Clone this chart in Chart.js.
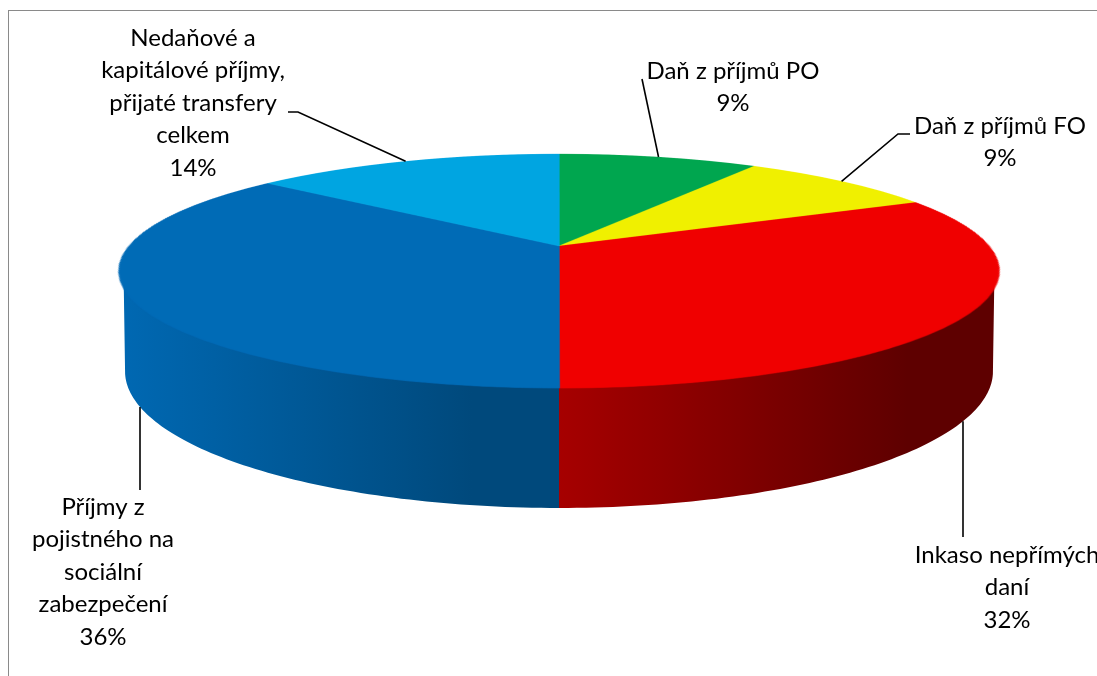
<!DOCTYPE html>
<html>
<head>
<meta charset="utf-8">
<script src="https://cdn.jsdelivr.net/npm/chart.js@4.4.1/dist/chart.umd.min.js"></script>
<style>
  html, body { margin: 0; padding: 0; background: #fff; overflow: hidden; }
  canvas { display: block; }
</style>
</head>
<body>
<canvas id="pie" width="1097" height="676"></canvas>
<script>
// Revenue structure (shares in %), clockwise from 12 o'clock
const categories = [
  ['Daň z příjmů PO'],
  ['Daň z příjmů FO'],
  ['Inkaso nepřímých', 'daní'],
  ['Příjmy z', 'pojistného na', 'sociální', 'zabezpečení'],
  ['Nedaňové a', 'kapitálové příjmy,', 'přijaté transfery', 'celkem']
];
const shares = [9, 9, 32, 36, 14];

// Face colours and the light/dark ends of each slice's rim
const topColors = ['#00A64F', '#F0F000', '#F00000', '#006BB6', '#00A5E1'];
const rimColors = [
  ['#00803D', '#005A2A'],
  ['#B8B800', '#808000'],
  ['#A60000', '#5E0000'],
  ['#0068B2', '#00497C'],
  ['#0086B8', '#005E82']
];

// Perspective camera for the tilted disc (unit-radius disc, screen pixels)
const CAM = { cx: 559, cy: 246, focal: 1943, dist: 4.519, tiltDeg: 15.06, thickness: 0.2356 };
const SIN_T = Math.sin(CAM.tiltDeg * Math.PI / 180);
const COS_T = Math.cos(CAM.tiltDeg * Math.PI / 180);

// Label blocks (centre x, first line y) and how their leader lines run
const labelSpots = [
  { x: 733, y: 71,  leader: { kind: 'rim', via: [[642, 79]] } },
  { x: 1000, y: 126, leader: { kind: 'rim', via: [[898, 134], [910, 134]] } },
  { x: 1007, y: 555, leader: { kind: 'drop', x: 963, end: 537 } },
  { x: 103, y: 507, leader: { kind: 'drop', x: 140, end: 490 } },
  { x: 193, y: 38,  leader: { kind: 'rim', via: [[298, 112], [288, 112]] } }
];
const LINE_STEP = 32.5;
const LABEL_FONT = '24px Lato';

const total = shares.reduce((a, b) => a + b, 0);

// Project a disc point: angle in canvas convention, level 0 = top face, 1 = bottom face
function project(angle, level, radius = 1) {
  const u = radius * Math.cos(angle), v = radius * Math.sin(angle);
  const Y = -CAM.thickness * level;
  const depth = CAM.dist - Y * SIN_T - v * COS_T;
  return [CAM.cx + CAM.focal * u / depth,
          CAM.cy - CAM.focal * (Y * COS_T - v * SIN_T) / depth];
}

// Side wall is visible where the outward normal faces the camera
const SIDE_MIN = Math.asin(1 / (CAM.dist * COS_T));
const SIDE_MAX = Math.PI - SIDE_MIN;

function drawRims(ctx, meta) {
  meta.data.forEach((arc, i) => {
    const s = Math.max(arc.startAngle, SIDE_MIN);
    const e = Math.min(arc.endAngle, SIDE_MAX);
    if (e <= s) return;
    const N = 80, pts = [];
    // upper edge tucked just under the face so the two meet without a seam
    for (let k = 0; k <= N; k++) pts.push(project(s + (e - s) * k / N, 0, 0.99));
    for (let k = N; k >= 0; k--) pts.push(project(s + (e - s) * k / N, 1));
    let x0 = Infinity, x1 = -Infinity;
    pts.forEach(p => { x0 = Math.min(x0, p[0]); x1 = Math.max(x1, p[0]); });
    const g = ctx.createLinearGradient(x0, 0, x1, 0);
    g.addColorStop(0, rimColors[i][0]);
    g.addColorStop(0.8, rimColors[i][1]);
    g.addColorStop(1, rimColors[i][1]);
    ctx.beginPath();
    pts.forEach((p, k) => k ? ctx.lineTo(p[0], p[1]) : ctx.moveTo(p[0], p[1]));
    ctx.closePath();
    ctx.fillStyle = g;
    ctx.fill();
  });
}

// Halve a canvas vertically (exact 2:1 bilinear = average of row pairs)
function halveRows(src) {
  const out = document.createElement('canvas');
  out.width = src.width; out.height = Math.ceil(src.height / 2);
  const oc = out.getContext('2d');
  oc.imageSmoothingEnabled = true;
  oc.imageSmoothingQuality = 'low';
  oc.drawImage(src, 0, 0, src.width, out.height * 2, 0, 0, out.width, out.height);
  return out;
}

// Lay the flat pie drawn by the chart onto the tilted top face, row by row
// (built at 4x vertical resolution, then reduced for smooth edges)
function drawFace(ctx, src, W, meta) {
  const a0 = meta.data[0];
  const R = a0.outerRadius, ex = a0.x, ey = a0.y;
  const SS = 4;
  const vAt = y => { const d = y - CAM.cy; return d * CAM.dist / (CAM.focal * SIN_T + d * COS_T); };
  const yTop = Math.floor(project(-Math.PI / 2, 0)[1]) - 2;
  const yBot = Math.ceil(project(Math.PI / 2, 0)[1]) + 2;
  const rows = (yBot - yTop) * SS;
  const tall = document.createElement('canvas');
  tall.width = W; tall.height = rows;
  const tc = tall.getContext('2d');
  tc.imageSmoothingEnabled = true;
  tc.imageSmoothingQuality = 'low';
  for (let r = 0; r < rows; r++) {
    const v0 = vAt(yTop + r / SS), v1 = vAt(yTop + (r + 1) / SS);
    if (v1 < -1.02 || v0 > 1.02) continue;
    const vm = (v0 + v1) / 2;
    const s = CAM.focal / (R * (CAM.dist - vm * COS_T));
    const sy0 = ey + v0 * R, sy1 = ey + v1 * R;
    tc.drawImage(src, 0, sy0, W, sy1 - sy0, CAM.cx - ex * s, r, W * s, 1);
  }
  const face = halveRows(halveRows(tall));
  ctx.drawImage(face, 0, yTop);
}

function dropStart(x) {
  let best = null, bestD = Infinity;
  for (let k = 0; k <= 2000; k++) {
    const p = project(SIDE_MIN + (SIDE_MAX - SIDE_MIN) * k / 2000, 1);
    const d = Math.abs(p[0] - x);
    if (d < bestD) { bestD = d; best = p; }
  }
  return best[1];
}

const disc3d = {
  id: 'disc3d',
  afterDatasetsDraw(chart) {
    const ctx = chart.ctx, cv = chart.canvas;
    const W = cv.width, H = cv.height;
    const meta = chart.getDatasetMeta(0);
    const flat = document.createElement('canvas');
    flat.width = W; flat.height = H;
    flat.getContext('2d').drawImage(cv, 0, 0);
    ctx.save();
    ctx.setTransform(1, 0, 0, 1, 0, 0);
    ctx.clearRect(0, 0, W, H);
    drawRims(ctx, meta);
    drawFace(ctx, flat, W, meta);
    ctx.restore();
  },
  afterDraw(chart) {
    const ctx = chart.ctx;
    const meta = chart.getDatasetMeta(0);
    ctx.save();
    // frame
    ctx.strokeStyle = '#8a8a8a';
    ctx.lineWidth = 1;
    ctx.strokeRect(8.5, 10.5, 1400, 1000);

    ctx.strokeStyle = '#000';
    ctx.lineWidth = 1.6;
    meta.data.forEach((arc, i) => {
      const spot = labelSpots[i];
      const ld = spot.leader;
      ctx.beginPath();
      if (ld.kind === 'rim') {
        const p = project((arc.startAngle + arc.endAngle) / 2, 0);
        ctx.moveTo(p[0], p[1]);
        ld.via.forEach(v => ctx.lineTo(v[0], v[1]));
      } else {
        ctx.moveTo(ld.x, dropStart(ld.x));
        ctx.lineTo(ld.x, ld.end);
      }
      ctx.stroke();

      const lines = categories[i].concat([Math.round(shares[i] / total * 100) + '%']);
      ctx.fillStyle = '#000';
      ctx.font = LABEL_FONT;
      ctx.textAlign = 'center';
      ctx.textBaseline = 'middle';
      lines.forEach((t, k) => ctx.fillText(t, spot.x, spot.y + k * LINE_STEP));
    });
    ctx.restore();
  }
};

new Chart(document.getElementById('pie'), {
  type: 'pie',
  data: {
    labels: categories.map(l => l.join(' ')),
    datasets: [{
      data: shares,
      backgroundColor: topColors,
      borderColor: topColors,
      borderWidth: 1,
      clip: false
    }]
  },
  options: {
    responsive: false,
    animation: false,
    events: [],
    layout: { padding: 0 },
    plugins: { legend: { display: false }, tooltip: { enabled: false } }
  },
  plugins: [disc3d]
});
</script>
</body>
</html>
